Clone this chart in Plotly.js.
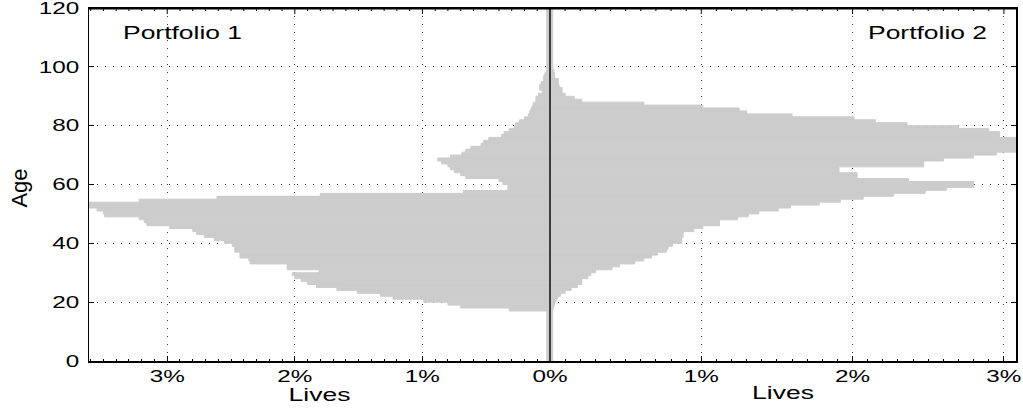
<!DOCTYPE html>
<html>
<head>
<meta charset="utf-8">
<script src="https://cdn.plot.ly/plotly-3.0.1.min.js"></script>
<style>html,body{margin:0;padding:0;background:#fff;}#chart{width:1023px;height:409px;}</style>
</head>
<body>
<div id="chart"></div>
<script>
// Age bins: interval [age, age+1)
const ages = Array.from({length: 120}, (_, i) => i);

// Portfolio 1 share of lives (%) per age
const portfolio1 = [
  0.025,0.025,0.025,0.025,0.025,0.025,0.025,0.025,0.025,0.025,
  0.025,0.025,0.025,0.025,0.025,0.025,0.025,0.32,0.70,0.80,
  0.99,1.23,1.33,1.51,1.67,1.83,1.90,1.95,2.00,2.02,
  1.81,2.06,2.06,2.35,2.36,2.43,2.43,2.47,2.47,2.49,
  2.55,2.63,2.71,2.77,2.80,2.98,3.16,3.18,3.22,3.49,
  3.50,3.55,3.80,3.80,3.22,2.61,1.80,0.68,0.33,0.33,
  0.37,0.40,0.66,0.70,0.75,0.78,0.80,0.85,0.88,0.78,
  0.69,0.66,0.62,0.54,0.52,0.48,0.38,0.36,0.32,0.28,
  0.27,0.24,0.20,0.17,0.16,0.15,0.14,0.13,0.11,0.11,
  0.09,0.06,0.08,0.08,0.07,0.05,0.05,0.04,0.03,0.025,
  0.025,0.025,0.025,0.025,0.025,0.025,0.025,0.025,0.025,0.025,
  0.025,0.025,0.025,0.025,0.025,0.025,0.025,0.025,0.025,0.025
];

// Portfolio 2 share of lives (%) per age
const portfolio2 = [
  0.018,0.018,0.018,0.018,0.018,0.018,0.018,0.018,0.018,0.018,
  0.018,0.018,0.018,0.018,0.018,0.018,0.018,0.02,0.025,0.03,
  0.04,0.05,0.07,0.10,0.14,0.18,0.21,0.21,0.25,0.27,
  0.30,0.41,0.46,0.56,0.62,0.67,0.71,0.77,0.78,0.81,
  0.87,0.87,0.88,0.88,0.95,1.01,1.12,1.12,1.24,1.31,
  1.38,1.51,1.59,1.78,1.92,2.07,2.27,2.48,2.62,2.80,
  2.80,2.37,2.03,2.03,1.91,1.91,2.47,2.47,2.60,2.80,
  2.95,3.20,3.20,3.20,3.20,3.20,2.97,2.97,2.90,2.70,
  2.36,2.15,2.01,1.60,1.30,1.25,1.01,0.62,0.21,0.16,
  0.10,0.08,0.08,0.06,0.055,0.055,0.03,0.03,0.025,0.02,
  0.018,0.018,0.018,0.018,0.018,0.018,0.018,0.018,0.018,0.018,
  0.018,0.018,0.018,0.018,0.018,0.018,0.018,0.018,0.018,0.018
];

const leftTickVals = [0, 1, 2, 3];
const leftTickText = ['0%', '1%', '2%', '3%'];
const rightTickVals = [1, 2, 3];
const rightTickText = ['1%', '2%', '3%'];
const ageTicks = [0, 20, 40, 60, 80, 100, 120];
const panelNames = ['Portfolio 1', 'Portfolio 2'];
const axisTitles = {x: 'Lives', y: 'Age'};

const ageCenters = ages.map(a => a + 0.5);
const barColor = '#cccccc';
const FONT = 'Liberation Sans, Arial, Helvetica, sans-serif';
const LEFT_RANGE = [3.613, 0];
const RIGHT_RANGE = [0, 3.08];
const AGE_RANGE = [0, 120];
const SPLIT = 0.4973;   // where the two panels meet (paper fraction)

// top edge of each panel, drawn as an unclipped line along the age-axis maximum
function topEdge(xa, ya, range) {
  return {type: 'scatter', mode: 'lines', x: range.slice(), y: [AGE_RANGE[1], AGE_RANGE[1]],
          xaxis: xa, yaxis: ya, cliponaxis: false, line: {color: '#000', width: 1.5},
          hoverinfo: 'skip', showlegend: false};
}

const traces = [
  {type: 'bar', orientation: 'h', x: portfolio1, y: ageCenters, width: 1,
   xaxis: 'x', yaxis: 'y', marker: {color: barColor, line: {color: barColor, width: 1}},
   hoverinfo: 'skip', showlegend: false},
  {type: 'bar', orientation: 'h', x: portfolio2, y: ageCenters, width: 1,
   xaxis: 'x2', yaxis: 'y2', marker: {color: barColor, line: {color: barColor, width: 1}},
   hoverinfo: 'skip', showlegend: false},
  topEdge('x', 'y', LEFT_RANGE),
  topEdge('x2', 'y2', RIGHT_RANGE)
];

const gridStyle = {showgrid: true, gridcolor: '#333', griddash: '1px,7px', gridwidth: 1};
const tickFont = {family: FONT, size: 16.5, color: '#000'};
const titleFont = {family: FONT, size: 18, color: '#000'};
const minorX = {dtick: 0.1, ticks: 'inside', ticklen: 2.5, tickcolor: '#000', showgrid: false};

const xCommon = Object.assign({
  ticks: 'inside', ticklen: 5, tickcolor: '#000', tickwidth: 1,
  showline: true, linecolor: '#000', linewidth: 1.5, mirror: true,
  zeroline: false, tickfont: tickFont, ticklabeloverflow: 'allow', minor: minorX
}, gridStyle);

// Frame: top edge band, centre divider, and inward ticks along the top.
const shapes = [
  {type: 'rect', xref: 'paper', yref: 'paper', x0: 0, x1: 1, y0: 0.996, y1: 1.002,
   fillcolor: '#000', line: {width: 0}, layer: 'above'},
  {type: 'line', xref: 'paper', yref: 'paper', x0: SPLIT, x1: SPLIT, y0: 0, y1: 1,
   line: {color: '#000', width: 1.4}, layer: 'above'}
];
function topTicks(xref, maxVal, majors) {
  for (let k = 1; k / 10 < maxVal; k++) {
    const v = k / 10;
    const isMajor = majors.some(m => Math.abs(m - v) < 1e-9);
    const len = isMajor ? 6 : 3;
    shapes.push({type: 'line', xref: xref, yref: 'paper', x0: v, x1: v,
                 y0: 0.999, y1: 1 - len / 353, line: {color: '#000', width: 1}, layer: 'above'});
  }
}
topTicks('x', LEFT_RANGE[0], leftTickVals);
topTicks('x2', RIGHT_RANGE[1], rightTickVals);

const layout = {
  width: 1023, height: 409,
  margin: {l: 89, r: 7, t: 8, b: 48},
  paper_bgcolor: '#fff', plot_bgcolor: '#fff',
  bargap: 0,
  font: {family: FONT, color: '#000'},
  xaxis: Object.assign({}, xCommon, {
    domain: [0, SPLIT], range: LEFT_RANGE, anchor: 'y',
    tickmode: 'array', tickvals: leftTickVals, ticktext: leftTickText,
    title: {text: axisTitles.x, font: titleFont, standoff: 2}
  }),
  xaxis2: Object.assign({}, xCommon, {
    domain: [SPLIT, 1], range: RIGHT_RANGE, anchor: 'y2',
    tickmode: 'array', tickvals: rightTickVals, ticktext: rightTickText,
    title: {text: axisTitles.x, font: titleFont, standoff: 2}
  }),
  yaxis: Object.assign({}, gridStyle, {
    range: AGE_RANGE, anchor: 'x', tickmode: 'array', tickvals: ageTicks,
    ticks: 'inside', ticklen: 5, tickcolor: '#000',
    showline: true, linecolor: '#000', linewidth: 1.5,
    zeroline: false, tickfont: tickFont, ticklabeloverflow: 'allow',
    ticklabelstandoff: 5
  }),
  yaxis2: Object.assign({}, gridStyle, {
    range: AGE_RANGE, anchor: 'x2', side: 'right',
    tickmode: 'array', tickvals: ageTicks,
    ticks: 'inside', ticklen: 5, tickcolor: '#000',
    showline: true, linecolor: '#000', linewidth: 1.5,
    zeroline: false, showticklabels: false
  }),
  shapes: shapes,
  annotations: [
    {xref: 'x', yref: 'y', x: 2.88, y: 111.5, xanchor: 'center', yanchor: 'middle',
     text: panelNames[0], showarrow: false, font: {family: FONT, size: 18, color: '#000'}},
    {xref: 'x2', yref: 'y2', x: 2.495, y: 111.5, xanchor: 'center', yanchor: 'middle',
     text: panelNames[1], showarrow: false, font: {family: FONT, size: 18, color: '#000'}},
    {xref: 'paper', yref: 'paper', x: -0.076, y: 0.49, xanchor: 'center', yanchor: 'middle',
     textangle: -90, text: axisTitles.y, showarrow: false,
     font: {family: FONT, size: 22, color: '#000'}}
  ]
};

// The reference's horizontal lettering is drawn wide; widen it to match.
function widenText() {
  const sel = '.xtick text, .x2tick text, .ytick text, .xtitle, .x2title, .annotation-text';
  document.querySelectorAll(sel).forEach(el => {
    if (el.textContent === axisTitles.y) return;
    const w = el.getComputedTextLength();
    if (!(w > 0)) return;
    el.setAttribute('textLength', (w * 1.47).toFixed(1));
    el.setAttribute('lengthAdjust', 'spacingAndGlyphs');
  });
}

Plotly.newPlot('chart', traces, layout, {staticPlot: true, displayModeBar: false}).then(widenText);
</script>
</body>
</html>
